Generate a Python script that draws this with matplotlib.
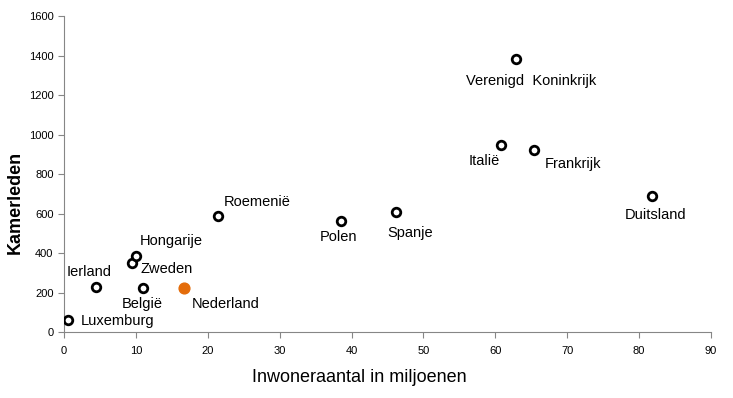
import matplotlib.pyplot as plt

plt.rcParams["font.family"] = ["Liberation Sans", "DejaVu Sans"]

# ------------------------------------------------------------
# Data: population (millions) vs. number of parliament members
# ------------------------------------------------------------
countries = ["Luxemburg", "Ierland", "Zweden", "Hongarije", "België",
             "Roemenië", "Polen", "Spanje", "Italië",
             "Verenigd  Koninkrijk", "Frankrijk", "Duitsland"]
inwoners = [0.5, 4.5, 9.5, 10.0, 11.0, 21.4, 38.5, 46.2, 60.8, 62.9, 65.4, 81.8]
kamerleden = [60, 226, 349, 386, 221, 588, 560, 610, 945, 1384, 920, 691]

nl_inwoners = [16.7]
nl_kamerleden = [225]

# label offsets in pixels (dx, dy) and horizontal alignment
label_pos = {
    "Luxemburg": (13, -1, "left"),
    "Ierland": (-7, 15, "center"),
    "Zweden": (8, -6, "left"),
    "Hongarije": (4, 15, "left"),
    "België": (-1, -16, "center"),
    "Roemenië": (6, 14, "left"),
    "Polen": (-2, -16, "center"),
    "Spanje": (14, -21, "center"),
    "Italië": (-17, -16, "center"),
    "Verenigd  Koninkrijk": (15, -22, "center"),
    "Frankrijk": (11, -14, "left"),
    "Duitsland": (4, -19, "center"),
}

fig = plt.figure(figsize=(7.33, 3.98), dpi=100)
ax = fig.add_axes([0.0873, 0.1658, 0.8827, 0.794])

ax.scatter(inwoners, kamerleden, s=38, facecolor="white",
           edgecolor="black", linewidth=2, zorder=3)
ax.scatter(nl_inwoners, nl_kamerleden, s=60, color="#E46C0A",
           edgecolor="#E46C0A", zorder=3)

for name, x, y in zip(countries, inwoners, kamerleden):
    dx, dy, ha = label_pos[name]
    ax.annotate(name, (x, y), xytext=(dx, dy), textcoords="offset pixels",
                ha=ha, va="center", fontsize=10.5)
ax.annotate("Nederland", (nl_inwoners[0], nl_kamerleden[0]), xytext=(8, -16),
            textcoords="offset pixels", ha="left", va="center", fontsize=10.5)

ax.set_xlim(0, 90)
ax.set_ylim(0, 1600)
ax.set_xticks(range(0, 91, 10))
ax.set_yticks(range(0, 1601, 200))

for side in ["top", "right"]:
    ax.spines[side].set_visible(False)
for side in ["left", "bottom"]:
    ax.spines[side].set_color("#868686")
ax.tick_params(axis="both", colors="#868686", labelcolor="black",
               labelsize=8, length=4, direction="out")
ax.tick_params(axis="x", pad=6)

ax.set_xlabel("Inwoneraantal in miljoenen", fontsize=13)
ax.set_ylabel("Kamerleden", fontsize=13, fontweight="bold")
ax.xaxis.set_label_coords(0.456, -0.118)
ax.yaxis.set_label_coords(-0.062, 0.41)

plt.savefig("out.png", dpi=100)
plt.close()
